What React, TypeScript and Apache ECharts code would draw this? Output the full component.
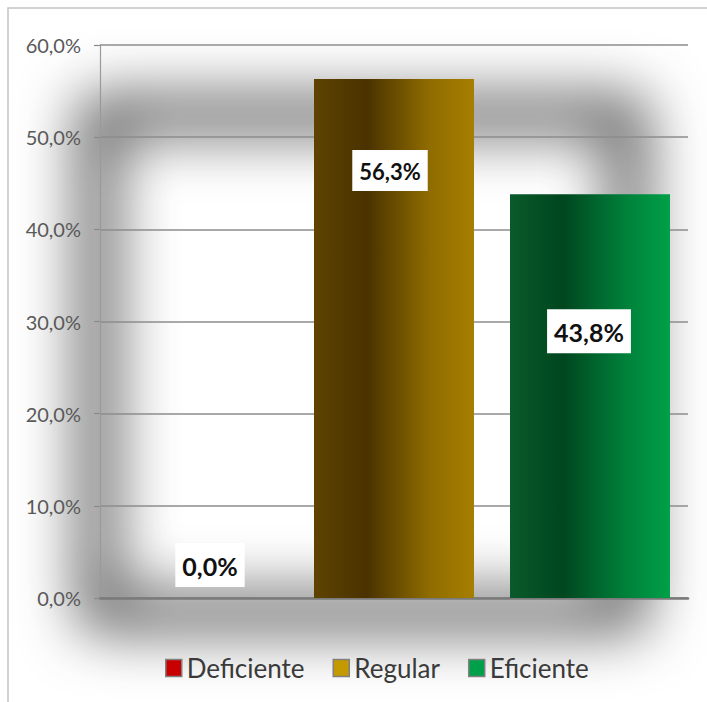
import React, { useEffect, useRef } from "react";
import * as echarts from "echarts";

// ---- data ----
const categories = ["Deficiente", "Regular", "Eficiente"];
const values = [0.0, 56.3, 43.8];
const yMin = 0;
const yMax = 60;
const yInterval = 10;

// ---- styling (not data) ----
const FONT = "Lato, 'Open Sans', sans-serif";
const legendColors = ["#c80000", "#c49a00", "#00a04a"];
const barFills = [
  "#c00000",
  new echarts.graphic.LinearGradient(0, 0, 1, 0, [
    { offset: 0, color: "#5e4300" },
    { offset: 0.33, color: "#4a3200" },
    { offset: 0.72, color: "#8f6c00" },
    { offset: 1, color: "#a67f00" },
  ]),
  new echarts.graphic.LinearGradient(0, 0, 1, 0, [
    { offset: 0, color: "#0a5a2b" },
    { offset: 0.33, color: "#00461f" },
    { offset: 0.72, color: "#00803a" },
    { offset: 1, color: "#00a048" },
  ]),
];
const labelCfg = [
  { position: "top", distance: 11, offset: [12, 0], fontSize: 25 },
  { position: "insideTop", distance: 71, offset: [-4, 0], fontSize: 22 },
  { position: "insideTop", distance: 115, offset: [-1, 0], fontSize: 25 },
];

const fmt = (v: number) => v.toFixed(1).replace(".", ",") + "%";

// soft blurred ring drawn only through its shadow (source is placed off-canvas)
const SHIFT = 1600;
const ring = { x0: 98, y0: 115, x1: 628, y1: 612 };
const ringPath =
  `M ${ring.x0 - SHIFT} ${ring.y0} L ${ring.x1 - SHIFT} ${ring.y0} L ${ring.x1 - SHIFT} ${ring.y1} L ${ring.x0 - SHIFT} ${ring.y1} Z ` +
  `M 2400 300 L 2401 300 L 2401 301 Z`;
echarts.graphic.registerShape("glowRing", echarts.graphic.extendPath(ringPath, {}) as any);

export default function App() {
  const ref = useRef<HTMLDivElement>(null);
  useEffect(() => {
    if (!ref.current) return;
    const chart = echarts.init(ref.current, null, { renderer: "svg" });
    const series = categories.map((name, i) => ({
      name,
      type: "bar",
      stack: "all",
      barWidth: 160,
      data: categories.map((_, j) => (j === i ? values[i] : "-")),
      itemStyle: { color: barFills[i] },
      label: {
        show: true,
        position: labelCfg[i].position,
        distance: labelCfg[i].distance,
        offset: labelCfg[i].offset,
        formatter: (p: any) => fmt(p.value),
        fontFamily: FONT,
        fontWeight: "bold",
        fontSize: labelCfg[i].fontSize,
        color: "#111",
        backgroundColor: "#ffffff",
        padding: [10, 7, 9, 7],
      },
    }));
    chart.setOption({
      animation: false,
      backgroundColor: "#ffffff",
      graphic: [
        {
          type: "glowRing",
          x: 0,
          y: 0,
          z: -10,
          silent: true,
          style: {
            fill: "none",
            stroke: "#000",
            lineWidth: 30,
            shadowColor: "rgba(0,0,0,0.85)",
            shadowBlur: 60,
            shadowOffsetX: SHIFT,
          },
        },
        {
          type: "rect",
          z: 10,
          silent: true,
          shape: { x: 8, y: 8, width: 720, height: 720 },
          style: { fill: "none", stroke: "#c4c4c4", lineWidth: 1.5 },
        },
      ],
      grid: { left: 100, right: 19, top: 45, bottom: 104, containLabel: false },
      legend: {
        left: 160,
        top: 650,
        itemWidth: 16,
        itemHeight: 17,
        itemGap: 28,
        icon: "rect",
        textStyle: { fontFamily: FONT, fontSize: 26, color: "#3a3a3a" },
        data: categories.map((name, i) => ({
          name,
          itemStyle: { color: legendColors[i], borderColor: "#808080", borderWidth: 1.5 },
        })),
      },
      xAxis: {
        type: "category",
        data: categories,
        axisLabel: { show: false },
        axisTick: { show: false },
        axisLine: { show: true, lineStyle: { color: "#7a7a7a", width: 2.5 } },
      },
      yAxis: {
        type: "value",
        min: yMin,
        max: yMax,
        interval: yInterval,
        axisLine: { show: true, lineStyle: { color: "#9a9a9a", width: 1.2 } },
        axisTick: { show: true, length: 6, lineStyle: { color: "#8a8a8a", width: 1.2 } },
        splitLine: { show: true, lineStyle: { color: "#8c8c8c", width: 1.6 } },
        axisLabel: {
          formatter: (v: number) => fmt(v),
          fontFamily: FONT,
          fontSize: 20,
          color: "#595959",
          margin: 19,
        },
      },
      series,
    });
    return () => chart.dispose();
  }, []);
  return (
    <div
      ref={ref}
      style={{ position: "fixed", left: 0, top: 0, width: 707, height: 702 }}
    />
  );
}
